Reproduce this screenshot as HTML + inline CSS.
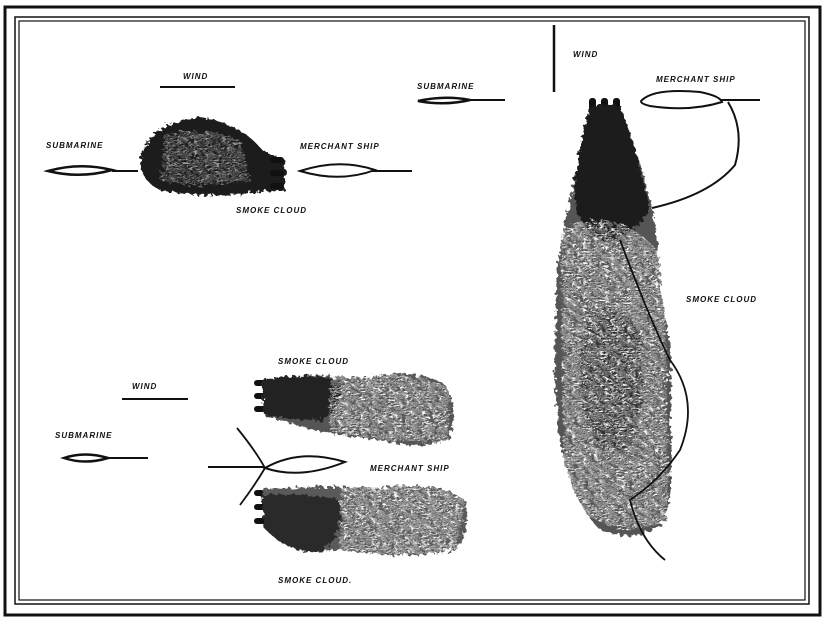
<!DOCTYPE html>
<html><head><meta charset="utf-8"><style>
html,body{margin:0;padding:0;background:#fff;}
svg{display:block}
text{font-family:"Liberation Sans",sans-serif;font-weight:bold;font-style:italic;font-size:8px;fill:#111;letter-spacing:1px}
</style></head><body>
<svg width="828" height="625" viewBox="0 0 828 625" xmlns="http://www.w3.org/2000/svg">
<defs>
<filter id="rough" x="-10%" y="-10%" width="120%" height="120%">
<feTurbulence type="fractalNoise" baseFrequency="0.25" numOctaves="2" seed="3" result="n"/>
<feDisplacementMap in="SourceGraphic" in2="n" scale="8"/>
</filter>
<filter id="tex" x="-10%" y="-10%" width="120%" height="120%">
<feTurbulence type="fractalNoise" baseFrequency="0.18 0.35" numOctaves="3" seed="7" result="n"/>
<feColorMatrix in="n" type="matrix" values="0 0 0 0 0  0 0 0 0 0  0 0 0 0 0  0 0 0 3 -1.2" result="a"/>
<feComposite in="SourceGraphic" in2="a" operator="in" result="c"/>
<feDisplacementMap in="c" in2="n" scale="10"/>
</filter>
</defs>
<!-- frame -->
<g fill="none" stroke="#111">
<rect x="5" y="7" width="815" height="608" stroke-width="3"/>
<rect x="15" y="17" width="794" height="587" stroke-width="1.5"/>
<rect x="19" y="21" width="786" height="579" stroke-width="1.2"/>
</g>
<!-- top-left -->
<text x="183" y="79">WIND</text>
<line x1="160" y1="87" x2="235" y2="87" stroke="#111" stroke-width="2"/>
<text x="46" y="148">SUBMARINE</text>
<path d="M48 171 Q80 162 112 170 Q80 179 48 171Z" fill="none" stroke="#111" stroke-width="2.5"/>
<line x1="112" y1="171" x2="138" y2="171" stroke="#111" stroke-width="2"/>
<g filter="url(#rough)">
<path d="M140 160 Q150 120 200 118 Q240 122 262 150 L285 160 L285 190 L255 192 Q210 200 160 190 Q140 180 140 160Z" fill="#1a1a1a"/>
</g>
<g filter="url(#tex)" opacity="0.6"><path d="M165 135 Q200 125 240 140 L250 180 Q200 190 160 180Z" fill="#fff"/></g>
<g fill="#111"><rect x="270" y="157" width="14" height="6" rx="3"/><rect x="270" y="170" width="14" height="6" rx="3"/><rect x="270" y="183" width="14" height="6" rx="3"/></g>
<text x="300" y="149">MERCHANT  SHIP</text>
<path d="M300 171 Q340 158 375 170 Q340 183 300 171Z" fill="none" stroke="#111" stroke-width="2"/>
<line x1="372" y1="171" x2="412" y2="171" stroke="#111" stroke-width="2"/>
<text x="236" y="213">SMOKE CLOUD</text>
<text x="417" y="89">SUBMARINE</text>
<path d="M418 101 Q445 95 470 100 Q445 106 418 101Z" fill="none" stroke="#111" stroke-width="2.5"/>
<line x1="468" y1="100" x2="505" y2="100" stroke="#111" stroke-width="2"/>
<!-- right -->
<line x1="554" y1="25" x2="554" y2="92" stroke="#111" stroke-width="2.5"/>
<text x="573" y="57">WIND</text>
<text x="656" y="82">MERCHANT  SHIP</text>
<path d="M642 100 Q655 88 700 92 Q720 96 722 102 Q690 112 650 106 Q638 103 642 100Z" fill="none" stroke="#111" stroke-width="2"/>
<line x1="720" y1="100" x2="760" y2="100" stroke="#111" stroke-width="2"/>
<path d="M728 102 Q745 130 735 165 Q710 195 652 208" fill="none" stroke="#111" stroke-width="2"/>
<g fill="#111"><rect x="589" y="98" width="7" height="16" rx="3"/><rect x="601" y="98" width="7" height="16" rx="3"/><rect x="613" y="98" width="7" height="16" rx="3"/></g>
<g filter="url(#rough)">
<path d="M590 110 L620 105 Q640 160 650 200 Q660 240 660 290 Q675 350 670 420 Q675 480 665 520 Q640 545 600 530 Q570 500 560 440 Q552 380 556 320 Q555 260 570 200 Q580 150 590 110Z" fill="#555"/>
<path d="M590 105 L620 105 Q640 160 650 210 Q630 240 600 240 Q570 220 575 180 Q580 140 590 105Z" fill="#1c1c1c"/>
<path d="M590 310 Q620 300 640 330 Q650 400 630 450 Q600 460 585 420 Q575 360 590 310Z" fill="#333"/>
</g>
<g filter="url(#tex)"><path d="M560 230 Q620 200 665 260 L668 520 Q620 545 565 500Z" fill="#fff"/></g>
<path d="M620 240 Q650 320 670 360 Q700 400 680 450 Q660 480 630 500 Q640 540 665 560" fill="none" stroke="#111" stroke-width="1.8"/>
<text x="686" y="302">SMOKE CLOUD</text>
<!-- bottom-left -->
<text x="132" y="389">WIND</text>
<line x1="122" y1="399" x2="188" y2="399" stroke="#111" stroke-width="2"/>
<text x="55" y="438">SUBMARINE</text>
<path d="M64 458 Q85 451 108 458 Q85 465 64 458Z" fill="none" stroke="#111" stroke-width="2.5"/>
<line x1="108" y1="458" x2="148" y2="458" stroke="#111" stroke-width="2"/>
<text x="278" y="364">SMOKE CLOUD</text>
<g fill="#111"><rect x="254" y="380" width="12" height="6" rx="3"/><rect x="254" y="393" width="12" height="6" rx="3"/><rect x="254" y="406" width="12" height="6" rx="3"/>
<rect x="254" y="490" width="12" height="6" rx="3"/><rect x="254" y="504" width="12" height="6" rx="3"/><rect x="254" y="518" width="12" height="6" rx="3"/></g>
<g filter="url(#rough)">
<path d="M262 380 Q300 372 360 378 Q420 368 445 385 Q460 410 448 440 Q420 450 380 440 Q320 435 264 415Z" fill="#555"/>
<path d="M262 380 Q300 372 340 380 Q345 410 320 420 Q290 420 264 415Z" fill="#222"/>
<path d="M262 490 Q320 485 380 488 Q440 480 465 500 Q472 530 455 550 Q400 560 340 550 Q290 555 264 528Z" fill="#5a5a5a"/>
<path d="M262 495 Q300 492 340 500 Q345 535 320 552 Q290 555 264 528Z" fill="#2a2a2a"/>
</g>
<g filter="url(#tex)">
<path d="M330 375 Q420 368 450 390 L448 440 Q380 445 330 430Z" fill="#fff"/>
<path d="M340 488 Q440 478 465 500 L455 550 Q400 560 340 550Z" fill="#fff"/>
</g>
<path d="M265 468 Q300 448 345 462 Q300 480 265 468Z" fill="none" stroke="#111" stroke-width="2"/>
<line x1="208" y1="467" x2="265" y2="467" stroke="#111" stroke-width="2"/>
<path d="M237 428 Q255 450 265 468 Q255 485 240 505" fill="none" stroke="#111" stroke-width="1.8"/>
<text x="370" y="471">MERCHANT  SHIP</text>
<text x="278" y="583">SMOKE CLOUD.</text>
</svg>
</body></html>
